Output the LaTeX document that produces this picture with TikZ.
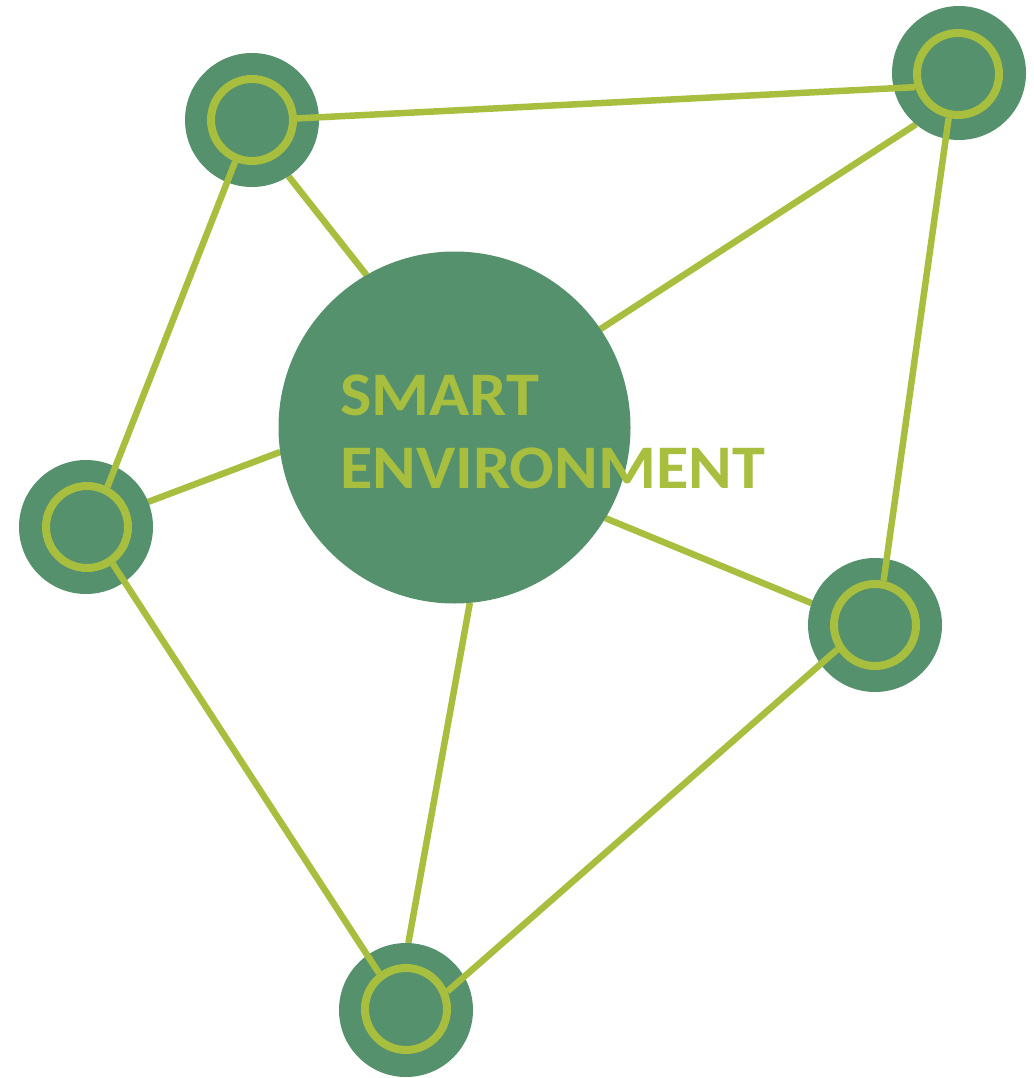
\documentclass[tikz,border=0pt]{standalone}
\usepackage{fontspec}
\setmainfont{Carlito}
\usetikzlibrary{backgrounds}
\definecolor{dgreen}{HTML}{55916C}
\definecolor{lgreen}{HTML}{A8BE3E}
\newcommand{\widetxt}[1]{\scalebox{1.07}[1]{#1}}
\begin{document}
\begin{tikzpicture}[x=1pt,y=-1pt,
  disc/.style={circle,fill=dgreen,minimum size=134pt,inner sep=0pt,outer sep=0pt},
  ring/.style={circle,draw=lgreen,line width=8pt,minimum size=82pt,inner sep=0pt},
  hub/.style={circle,fill=dgreen,minimum size=352pt,inner sep=0pt,outer sep=0pt},
  link/.style={draw=lgreen,line width=6.5pt},
  label/.style={text=lgreen,font=\fontsize{62}{73}\selectfont\bfseries,inner sep=0pt,anchor=base west}]
\useasboundingbox (0,0) rectangle (1033,1078);
\node[hub] (S) at (454.5,427.5) {};
\node[disc] (A) at (252,120) {};
\node[disc] (B) at (959,73) {};
\node[disc] (C) at (86,527) {};
\node[disc] (D) at (875,625) {};
\node[disc] (E) at (406,1010) {};
\node[ring] (Ar) at (252,120) {};
\node[ring] (Br) at (958,74) {};
\node[ring] (Cr) at (87,527) {};
\node[ring] (Dr) at (875,625) {};
\node[ring] (Er) at (406,1009) {};
\begin{scope}[on background layer]
\draw[link] (A.-57.7) -- (S.120.8);
\draw[link] (B.230.8) -- (S.34.9);
\draw[link] (C.22) -- (S.188.4);
\draw[link] (D.161) -- (S.-31.2);
\draw[link] (E.88) -- (S.-85.6);
\end{scope}
\draw[link] (Ar.2.6) -- (Br.197);
\draw[link] (Ar.248) -- (Cr.63);
\draw[link] (Br.258.4) -- (Dr.79.5);
\draw[link] (Cr.-55) -- (Er.127);
\draw[link] (Dr.213) -- (Er.23.5);
\node[label] (t1) at (340,415) {\widetxt{SMART}};
\node[label] (t2) at (340,488) {\widetxt{ENVIRONMENT}};
\end{tikzpicture}
\end{document}
